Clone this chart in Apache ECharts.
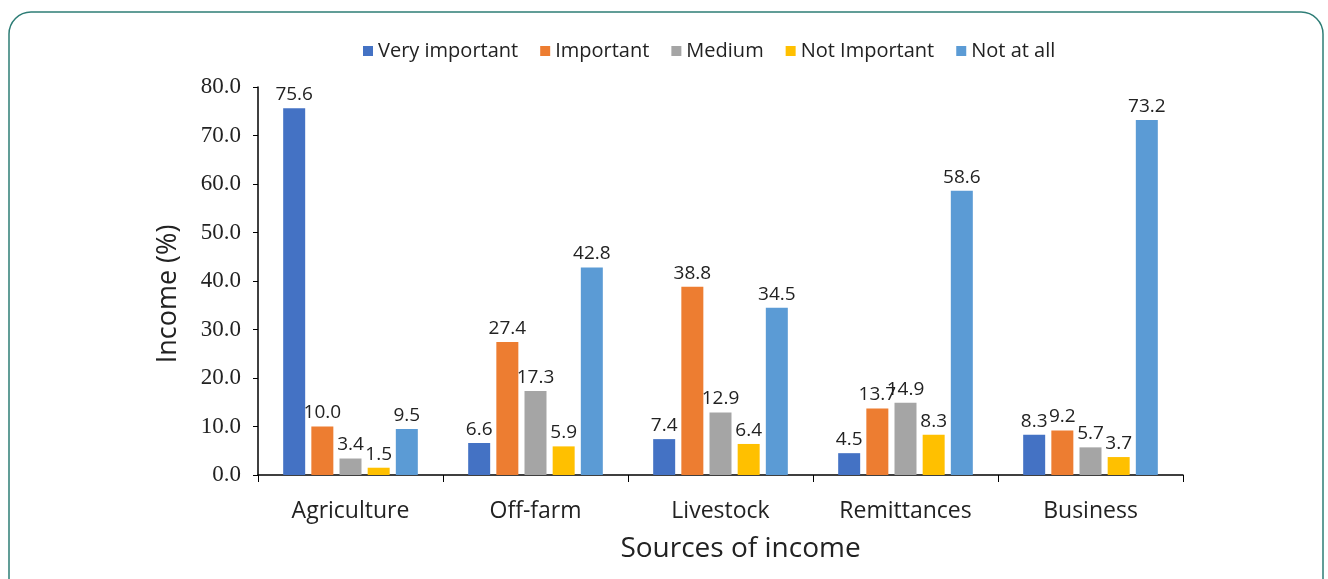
<!DOCTYPE html>
<html><head><meta charset="utf-8">
<script src="https://cdn.jsdelivr.net/npm/echarts@6/dist/echarts.min.js"></script>
<style>html,body{margin:0;padding:0;background:#fff;}#c{width:1328px;height:579px;}</style>
</head><body><div id="c"></div>
<script>
const categories = ['Agriculture','Off-farm','Livestock','Remittances','Business'];
const seriesNames = ['Very important','Important','Medium','Not Important','Not at all'];
const veryImportant = [75.6, 6.6, 7.4, 4.5, 8.3];
const important = [10.0, 27.4, 38.8, 13.7, 9.2];
const medium = [3.4, 17.3, 12.9, 14.9, 5.7];
const notImportant = [1.5, 5.9, 6.4, 8.3, 3.7];
const notAtAll = [9.5, 42.8, 34.5, 58.6, 73.2];
const colors = ['#4472C4','#ED7D31','#A5A5A5','#FFC000','#5B9BD5'];
const values = [veryImportant, important, medium, notImportant, notAtAll];

const chart = echarts.init(document.getElementById('c'), null, {renderer:'canvas'});
chart.setOption({
  animation:false,
  color: colors,
  graphic:[{type:'rect', shape:{x:9,y:12,width:1314,height:620,r:22}, style:{fill:'none',stroke:'#2e7d76',lineWidth:1.5}, z:-1}],
  legend:{top:36, left:358, itemWidth:10, itemHeight:10, itemGap:22,
    textStyle:{fontFamily:'Open Sans', fontSize:20, color:'#222'},
    data: seriesNames.map(n=>({name:n, icon:'rect'}))},
  grid:{left:258, right:145, top:87, bottom:104},
  xAxis:{type:'category', data:categories,
    name:'Sources of income', nameLocation:'middle', nameGap:60,
    nameTextStyle:{fontFamily:'Open Sans', fontSize:28, color:'#222', padding:[0,0,0,40]},
    axisLine:{lineStyle:{color:'#000', width:1.5}},
    axisTick:{show:true, length:7, lineStyle:{color:'#000'}},
    axisLabel:{fontFamily:'Open Sans', fontSize:23, color:'#222', margin:25}},
  yAxis:{type:'value', min:0, max:80, interval:10,
    name:'Income (%)', nameLocation:'middle', nameGap:76,
    nameTextStyle:{fontFamily:'Open Sans', fontSize:27, color:'#222', padding:[0,26,0,0]},
    axisLine:{show:true, lineStyle:{color:'#000', width:1.5}},
    axisTick:{show:true, length:5, lineStyle:{color:'#000'}},
    splitLine:{show:false},
    axisLabel:{fontFamily:'Liberation Serif', fontSize:23, color:'#222', margin:17,
      formatter:v=>v.toFixed(1)}},
  series: seriesNames.map((n,i)=>({
    name:n, type:'bar', data:values[i], barWidth:22, barGap:'28%',
    itemStyle:{color:colors[i]},
    label:{show:true, position:'top', distance:4, fontFamily:'Open Sans', fontSize:19, color:'#222',
      formatter:p=>p.value.toFixed(1)}
  }))
});
</script></body></html>
